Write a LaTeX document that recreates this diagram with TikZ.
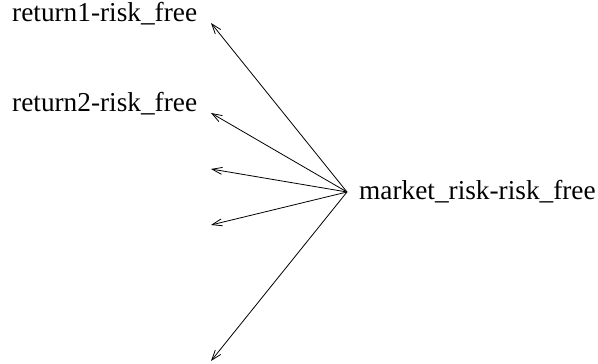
\documentclass[tikz,border=0pt]{standalone}
\usepackage{fontspec}
\setmainfont{Liberation Serif}
\usetikzlibrary{arrows.meta, positioning}

\begin{document}
\begin{tikzpicture}[x=1pt, y=1pt, >={Straight Barb[length=10pt, width=7pt]},
    lbl/.style={inner sep=0pt, font=\rmfamily\fontsize{27.3}{32}\selectfont},
    edge/.style={->, line width=0.8pt}]
    \useasboundingbox (0,0) rectangle (598,364);

    % Labels
    \node[lbl, anchor=base west] (ret1) at (12,342) {return1-risk\_free};
    \node[lbl, anchor=base west] (ret2) at (12,252) {return2-risk\_free};
    \node[lbl, anchor=west, inner xsep=12pt] (market) at (347,172) {market\_risk-risk\_free};

    % Arrow ends
    \coordinate (tip1) at (211,341);
    \coordinate (tip2) at (211,251);
    \coordinate (tip3) at (211,195);
    \coordinate (tip4) at (211,139);
    \coordinate (tip5) at (211,3);

    % Edges
    \foreach \t in {tip1, tip2, tip3, tip4, tip5}
        \draw[edge] (market.west) -- (\t);
\end{tikzpicture}
\end{document}
